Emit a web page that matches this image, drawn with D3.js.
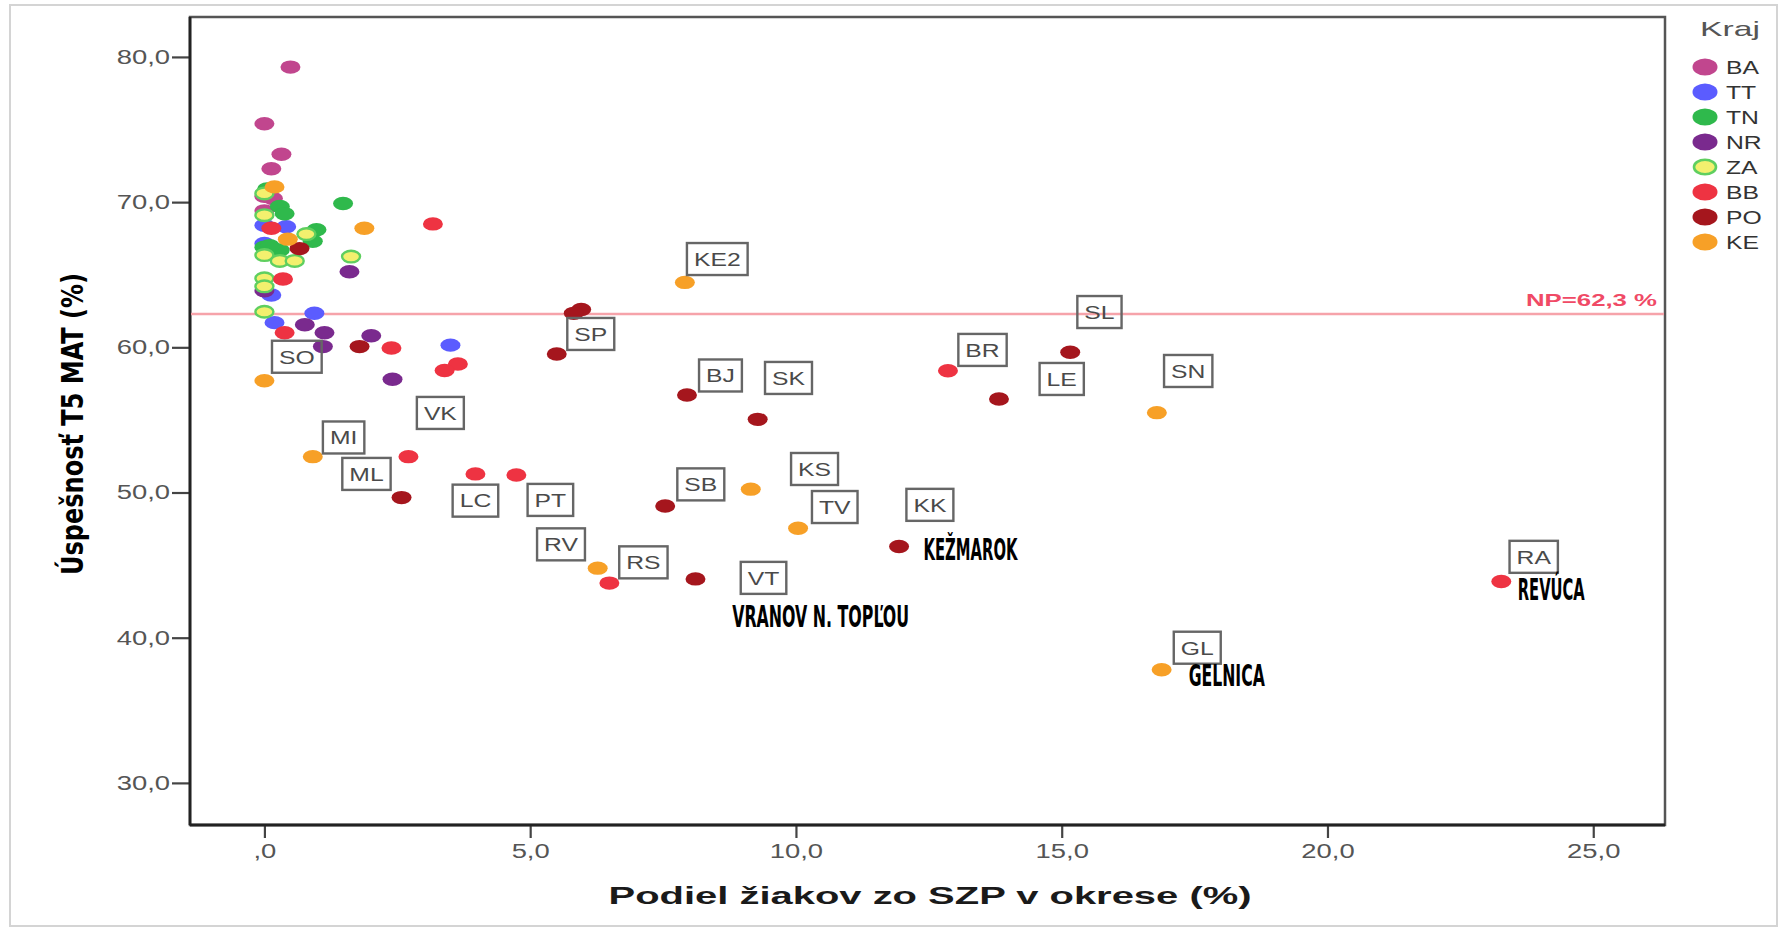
<!DOCTYPE html>
<html><head><meta charset="utf-8">
<script src="https://cdn.jsdelivr.net/npm/d3@7"></script>
<style>body{margin:0;background:#fff} svg{display:block}</style>
</head><body>
<svg id="chart" width="1785" height="932"></svg>
<script>
// ---------- data ----------
const kraje = ["BA","TT","TN","NR","ZA","BB","PO","KE"];
const xTicks = [0,5,10,15,20,25];
const yTicks = [30,40,50,60,70,80];
const npValue = 62.3;
const npText = "NP=62,3 %";
const xTitle = "Podiel žiakov zo SZP v okrese (%)";
const yTitle = "Úspešnosť T5 MAT (%)";
const legendTitle = "Kraj";

const BA = [[0.49,79.3],[0.0,75.4],[0.32,73.3],[0.13,72.3],[0.0,70.4],[0.16,70.25],[0.0,69.4]];
const TT = [[0.0,68.4],[0.41,68.3],[0.0,67.15],[0.13,63.6],[0.94,62.35],[0.19,61.7],[3.5,60.15]];
const TN = [[0.05,70.9],[1.48,69.9],[0.29,69.7],[0.38,69.2],[0.98,68.1],[0.91,67.3],[0.0,66.9],[0.29,66.7],[0.1,67.0]];
const NR = [[1.6,65.2],[0.0,63.9],[0.76,61.55],[1.13,61.0],[2.01,60.8],[1.1,60.05],[2.41,57.8]];
const ZA = [[0.0,70.6],[0.0,69.1],[0.79,67.8],[0.0,66.35],[0.29,65.95],[0.57,65.95],[1.63,66.25],[0.0,64.75],[0.0,64.2],[0.0,62.45]];
const BB = [[0.13,68.2],[3.17,68.5],[0.35,64.7],[0.38,61.0],[2.39,59.95],[3.64,58.85],[3.39,58.4],[2.71,52.47],[3.97,51.28],[4.74,51.21],[6.49,43.76],[12.86,58.39],[23.27,43.87]];
const PO = [[0.66,66.8],[1.79,60.05],[5.96,62.6],[5.82,62.34],[5.5,59.54],[7.95,56.72],[9.28,55.04],[2.58,49.65],[7.54,49.07],[8.11,44.05],[11.94,46.28],[13.82,56.44],[15.16,59.66]];
const KE = [[0.19,71.05],[1.88,68.2],[0.44,67.45],[0.0,57.7],[0.91,52.47],[7.91,64.47],[9.15,50.23],[10.04,47.54],[6.27,44.79],[16.79,55.5],[16.88,37.79]];
const seriesData = [BA,TT,TN,NR,ZA,BB,PO,KE];

// boxed district codes, anchored in data units (centre of box)
const boxLabels = [["KE2",8.52,66.08],["SL",15.71,62.43],["BR",13.51,59.82],["LE",15.0,57.82],["BJ",8.58,58.06],["SK",9.86,57.89],
  ["KS",10.35,51.62],["SB",8.21,50.56],["TV",10.73,49.0],["KK",12.52,49.15],["VT",9.39,44.12],["SN",17.38,58.37],["RA",23.88,45.57],
  ["GL",17.55,39.31],["SO",0.61,59.35],["SP",6.14,60.92],["VK",3.31,55.48],["MI",1.49,53.79],["ML",1.92,51.28],["LC",3.97,49.44],
  ["PT",5.38,49.49],["RV",5.58,46.43],["RS",7.13,45.19]];
// district names written out (left, baseline) in data units
const nameLabels = [["KEŽMAROK",12.40,45.34],["VRANOV  N. TOPĽOU",8.80,40.77],["REVÚCA",23.58,42.61],["GELNICA",17.39,36.64]];

// ---------- styles ----------
const colors = ["#c1468e","#5b5cff","#2fb94c","#7a2a8e","#f3f06e","#ee3342","#a5161d","#f7a027"];
const strokes = [null,null,null,null,"#5fcf5f",null,null,null];
const nameWidths = [94,177,67,76];
const STRETCH = 1.37;

const svg = d3.select("#chart");
const W = 1785, H = 932;
const L = 190, R = 1665, T = 17, B = 825;

const x = d3.scaleLinear().domain([-1.4, 26.35]).range([L, R]);
const y = d3.scaleLinear().domain([27.1, 82.75]).range([B, T]);

function stretch(sel, f){ sel.each(function(){ const l=this.getComputedTextLength(); this.setAttribute("textLength", l*f); this.setAttribute("lengthAdjust","spacingAndGlyphs"); }); }
function fit(sel, w){ sel.attr("textLength", w).attr("lengthAdjust","spacingAndGlyphs"); }

svg.append("rect").attr("width",W).attr("height",H).attr("fill","#fff");
svg.append("rect").attr("x",10).attr("y",5).attr("width",1767).attr("height",921)
  .attr("fill","none").attr("stroke","#d4d4d4").attr("stroke-width",2);

// frame
svg.append("rect").attr("x",L).attr("y",T).attr("width",R-L).attr("height",B-T)
  .attr("fill","#fff").attr("stroke","#555").attr("stroke-width",2.5);

// axes
const fmt = v => v===0 ? ",0" : d3.format(".1f")(v).replace(".", ",");
const gx = svg.append("g").attr("transform",`translate(0,${B})`)
  .call(d3.axisBottom(x).tickValues(xTicks).tickFormat(fmt).tickSize(13).tickPadding(6));
const gy = svg.append("g").attr("transform",`translate(${L},0)`)
  .call(d3.axisLeft(y).tickValues(yTicks).tickFormat(fmt).tickSize(18).tickPadding(2));
[gx,gy].forEach(g=>{
  g.select(".domain").remove();
  g.selectAll(".tick line").attr("stroke","#444").attr("stroke-width",2.2);
  g.selectAll(".tick text").attr("fill","#555").style("font-family","'Liberation Sans',Arial,sans-serif").style("font-size","20px");
  stretch(g.selectAll(".tick text"), STRETCH);
});
svg.append("line").attr("x1",L).attr("x2",R).attr("y1",B).attr("y2",B).attr("stroke","#222").attr("stroke-width",2.8);
svg.append("line").attr("x1",L).attr("x2",L).attr("y1",T).attr("y2",B).attr("stroke","#222").attr("stroke-width",2.8);

// NP line
svg.append("line").attr("x1",L+1).attr("x2",R-1).attr("y1",y(npValue)).attr("y2",y(npValue))
  .attr("stroke","#f6a3aa").attr("stroke-width",2.5);
svg.append("text").attr("x",x(26.2)).attr("y",y(npValue)-8).attr("text-anchor","end")
  .attr("fill","#f04a66").style("font-family","'Liberation Sans',Arial,sans-serif").style("font-weight","bold").style("font-size","17px")
  .text(npText).call(s=>fit(s,131));

// points
kraje.forEach((k,i)=>{
  svg.append("g").selectAll("ellipse").data(seriesData[i]).join("ellipse")
    .attr("cx",d=>x(d[0])).attr("cy",d=>y(d[1])).attr("rx",strokes[i]?9:10).attr("ry",strokes[i]?5.8:6.7)
    .attr("fill",colors[i]).attr("stroke",strokes[i]||"none").attr("stroke-width",strokes[i]?2.4:0);
});

// boxed labels
const bl = svg.append("g").selectAll("g").data(boxLabels).join("g")
  .attr("transform",d=>`translate(${x(d[1])},${y(d[2])})`);
bl.append("text").attr("text-anchor","middle").attr("dy","0.36em").attr("fill","#4a4a4a")
  .style("font-family","'Liberation Sans',Arial,sans-serif").style("font-size","19px").text(d=>d[0])
  .call(s=>stretch(s,1.3));
bl.each(function(){
  const g=d3.select(this); const w=+g.select("text").attr("textLength");
  g.insert("rect","text").attr("x",-(w+14)/2).attr("y",-16).attr("width",w+14).attr("height",32)
   .attr("fill","none").attr("stroke","#666").attr("stroke-width",2.4);
});

// name labels
svg.append("g").selectAll("text").data(nameLabels).join("text")
  .attr("x",d=>x(d[1])).attr("y",d=>y(d[2])).attr("fill","#000")
  .style("font-family","'Liberation Sans Narrow','DejaVu Sans Condensed',sans-serif").style("font-weight","bold").style("font-size","30px")
  .text(d=>d[0])
  .each(function(d,i){ this.setAttribute("textLength", nameWidths[i]); this.setAttribute("lengthAdjust","spacingAndGlyphs"); });

// axis titles
svg.append("text").attr("x",930).attr("y",904).attr("text-anchor","middle").attr("fill","#1a1a1a")
  .style("font-family","'Liberation Sans',Arial,sans-serif").style("font-weight","bold").style("font-size","24px")
  .text(xTitle).call(s=>fit(s,643));
svg.append("text").attr("transform","translate(83,424) rotate(-90)").attr("text-anchor","middle").attr("fill","#000")
  .style("font-family","'Liberation Sans Narrow','DejaVu Sans Condensed',sans-serif").style("font-weight","bold").style("font-size","30px")
  .text(yTitle).call(s=>fit(s,302));

// legend
svg.append("text").attr("x",1700).attr("y",36).attr("fill","#555")
  .style("font-family","'Liberation Sans',Arial,sans-serif").style("font-size","21px").text(legendTitle).call(s=>fit(s,60));
const lg = svg.append("g").selectAll("g").data(kraje).join("g")
  .attr("transform",(d,i)=>`translate(1705,${67+i*25})`);
lg.append("ellipse").attr("rx",(d,i)=>strokes[i]?11:12.5).attr("ry",(d,i)=>strokes[i]?7.3:8.6)
  .attr("fill",(d,i)=>colors[i]).attr("stroke",(d,i)=>strokes[i]||"none").attr("stroke-width",(d,i)=>strokes[i]?2.6:0);
lg.append("text").attr("x",21).attr("dy","0.36em").attr("fill","#333")
  .style("font-family","'Liberation Sans',Arial,sans-serif").style("font-size","19px").text(d=>d)
  .call(s=>stretch(s,1.3));
</script>
</body></html>
